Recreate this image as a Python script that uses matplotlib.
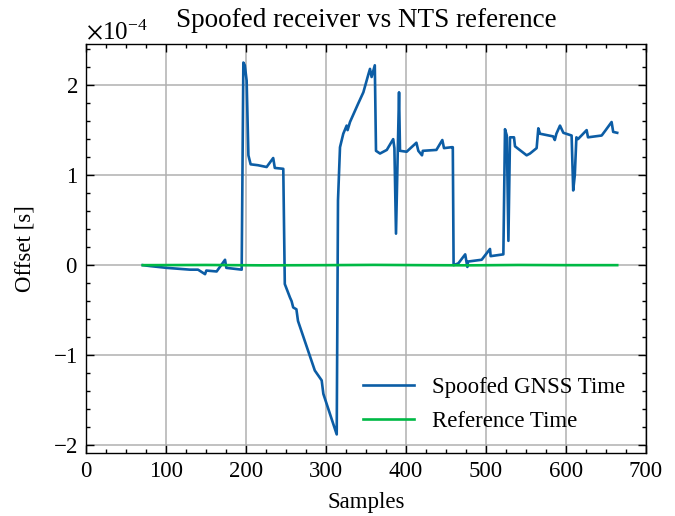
import matplotlib
matplotlib.use("Agg")
import matplotlib.pyplot as plt
import numpy as np
from matplotlib.ticker import ScalarFormatter, AutoMinorLocator

# Data (offset in units of 1e-4 s)
spoof_x = [71, 80, 100.8, 130, 140, 148.8, 150.4, 163.3, 173.8, 175.4, 185, 194.6,
           196.7, 198.5, 200.8, 203, 205.8, 215, 225.8, 234, 236, 246.6,
           248.5, 255, 257, 259, 263, 265, 286, 294.6, 296.7, 313.4,
           315, 317.5, 321.6, 325.8, 327, 330, 340, 346.7, 353, 355, 357, 361,
           362.5, 367.5, 376, 384, 385.5, 387.5, 391.3, 392.5, 400.8, 413, 415.4,
           420, 421, 438, 445.4, 447.5, 457, 458.5,
           459.5, 465.4, 474, 476.7, 477.5, 494.6, 505, 505.8, 521.7,
           523.75, 526, 528, 530, 535, 536.25, 550.8, 555, 563.3, 565.4, 567.5,
           584, 586, 588, 592.5, 596.7, 607, 609, 611, 613, 615, 625.8, 627.5,
           644.6, 648.8, 657, 659, 664]
spoof_y = [0.0, -0.01, -0.03, -0.05, -0.05, -0.10, -0.06, -0.07, 0.06, -0.03, -0.04, -0.05,
           2.25, 2.22, 2.05, 1.22, 1.12, 1.11, 1.09, 1.19, 1.08, 1.07,
           -0.21, -0.36, -0.40, -0.47, -0.49, -0.62, -1.17, -1.28, -1.43, -1.88,
           0.72, 1.31, 1.46, 1.55, 1.50, 1.59, 1.79, 1.92, 2.12, 2.18, 2.09, 2.22,
           1.27, 1.24, 1.28, 1.40, 1.30, 0.35, 1.92, 1.27, 1.26, 1.36, 1.27,
           1.22, 1.27, 1.28, 1.39, 1.30, 1.31, 1.31,
           0.0, 0.02, 0.12, -0.02, 0.04, 0.06, 0.18, 0.10, 0.12,
           1.51, 1.44, 0.27, 1.42, 1.42, 1.32, 1.22, 1.24, 1.30, 1.52, 1.46,
           1.43, 1.39, 1.46, 1.55, 1.47, 1.44, 0.83, 1.00, 1.42, 1.40, 1.50, 1.42,
           1.44, 1.49, 1.59, 1.48, 1.47]
ref_x = [71, 150, 220, 300, 360, 420, 480, 540, 600, 664]
ref_y = [0.0, 0.002, -0.002, 0.0, 0.003, 0.0, -0.002, 0.002, 0.0, 0.0]

scale = 1e-4
title = "Spoofed receiver vs NTS reference"
xlabel = "Samples"
ylabel = "Offset [s]"
labels = ["Spoofed GNSS Time", "Reference Time"]

plt.rcParams.update({
    "font.family": ["Liberation Serif", "DejaVu Serif"],
    "mathtext.fontset": "stix",
    "font.size": 16.5,
    "axes.linewidth": 1.0,
    "xtick.direction": "in", "ytick.direction": "in",
    "xtick.top": True, "ytick.right": True,
    "xtick.major.size": 5.7, "ytick.major.size": 5.7,
    "xtick.minor.size": 2.9, "ytick.minor.size": 2.9,
    "xtick.major.width": 1.0, "ytick.major.width": 1.0,
    "xtick.minor.width": 1.0, "ytick.minor.width": 1.0,
    "xtick.major.pad": 6, "ytick.major.pad": 6,
})

fig = plt.figure(figsize=(6.75, 5.16), dpi=100)
ax = fig.add_axes([86/675, 1-453/516, (646-86)/675, (453-44)/516])

ax.plot(spoof_x, np.array(spoof_y) * scale, color="#0C5DA5", lw=1.9, label=labels[0])
ax.plot(ref_x, np.array(ref_y) * scale, color="#00B945", lw=1.9, label=labels[1])

ax.set_xlim(0, 700)
ax.grid(True, color="#b0b0b0", lw=1.1)
ax.set_axisbelow(True)
ax.xaxis.set_minor_locator(AutoMinorLocator(4))
ax.yaxis.set_minor_locator(AutoMinorLocator(5))
fmt = ScalarFormatter(useMathText=True)
fmt.set_powerlimits((-3, 3))
ax.yaxis.set_major_formatter(fmt)
ax.yaxis.get_offset_text().set_fontsize(18)

ax.set_title(title, fontsize=19.5, pad=12)
ax.set_xlabel(xlabel, fontsize=16.5, labelpad=7)
ax.set_ylabel(ylabel, fontsize=16.5, labelpad=12)
ax.legend(loc="lower right", frameon=False, fontsize=16.5, handlelength=2.2,
          labelspacing=0.6, bbox_to_anchor=(1.0, 0.0))

fig.savefig("out.png", dpi=100)
